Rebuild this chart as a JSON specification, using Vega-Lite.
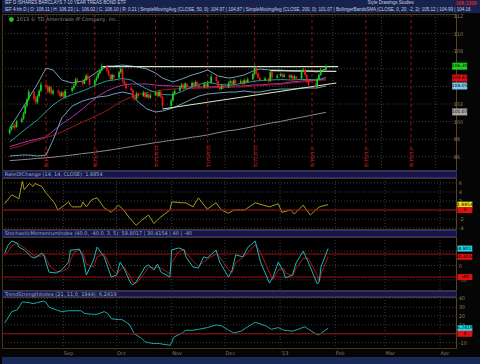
{
"$schema":"https://vega.github.io/schema/vega-lite/v6.json",
"background":"#050505",
"padding":{"left":1,"top":0,"right":0,"bottom":0},
"spacing":1,
"bounds":"flush",
"resolve":{"scale":{"color":"independent"}},
"config":{"view":{"stroke":"#4a3818","fill":"#000000"},"font":"DejaVu Sans","text":{"font":"DejaVu Sans"},"axis":{"labelFont":"DejaVu Sans"}},
"datasets":{
"mo":[{"d":"2012-09-01"},{"d":"2012-10-01"},{"d":"2012-11-01"},{"d":"2012-12-01"},{"d":"2013-01-01"},{"d":"2013-02-01"},{"d":"2013-03-01"},{"d":"2013-04-01"}],
"pg":[{"v":96,"s":"96"},{"v":98,"s":"98"},{"v":100,"s":"100"},{"v":102,"s":"102"},{"v":104,"s":""},{"v":106,"s":""},{"v":108,"s":"108"},{"v":110,"s":"110"},{"v":112,"s":"112"}],
"rg":[{"v":-4,"s":"-4"},{"v":-2,"s":"-2"},{"v":0,"s":""},{"v":2,"s":"2"},{"v":4,"s":"4"},{"v":6,"s":"6"}],
"sg":[{"v":-50,"s":"-50"},{"v":0,"s":"0"},{"v":50,"s":""}],
"tg":[{"v":-10,"s":"-10"},{"v":0,"s":""},{"v":10,"s":"10"},{"v":20,"s":"20"},{"v":30,"s":"30"},{"v":40,"s":"40"}],
"c":[
{"d":"2012-07-30","o":98.7,"h":99.3,"l":98.5,"c":99.1},
{"d":"2012-07-31","o":99.1,"h":99.6,"l":98.9,"c":99.4},
{"d":"2012-08-01","o":99.4,"h":99.8,"l":99.2,"c":99.5},
{"d":"2012-08-02","o":99.6,"h":99.8,"l":99.0,"c":99.3},
{"d":"2012-08-03","o":99.4,"h":100.2,"l":99.3,"c":100.0},
{"d":"2012-08-06","o":100.0,"h":100.5,"l":99.8,"c":100.3},
{"d":"2012-08-07","o":100.3,"h":101.1,"l":100.2,"c":100.9},
{"d":"2012-08-08","o":100.9,"h":101.9,"l":100.8,"c":101.8},
{"d":"2012-08-09","o":101.8,"h":102.7,"l":101.6,"c":102.5},
{"d":"2012-08-10","o":102.5,"h":103.7,"l":102.3,"c":103.4},
{"d":"2012-08-13","o":103.4,"h":103.5,"l":102.4,"c":102.6},
{"d":"2012-08-14","o":102.7,"h":102.9,"l":101.9,"c":102.2},
{"d":"2012-08-15","o":102.2,"h":103.1,"l":102.0,"c":102.9},
{"d":"2012-08-16","o":102.9,"h":103.7,"l":102.7,"c":103.5},
{"d":"2012-08-17","o":103.5,"h":104.5,"l":103.3,"c":104.2},
{"d":"2012-08-20","o":104.2,"h":104.4,"l":103.8,"c":104.0},
{"d":"2012-08-21","o":104.0,"h":104.2,"l":103.2,"c":103.4},
{"d":"2012-08-22","o":103.4,"h":104.1,"l":103.2,"c":103.9},
{"d":"2012-08-23","o":103.9,"h":104.0,"l":103.0,"c":103.2},
{"d":"2012-08-24","o":103.2,"h":103.7,"l":103.0,"c":103.5},
{"d":"2012-08-27","o":103.5,"h":103.7,"l":103.1,"c":103.3},
{"d":"2012-08-28","o":103.3,"h":103.5,"l":102.7,"c":102.9},
{"d":"2012-08-29","o":102.9,"h":103.5,"l":102.8,"c":103.3},
{"d":"2012-08-30","o":103.3,"h":103.4,"l":102.6,"c":102.8},
{"d":"2012-08-31","o":102.8,"h":103.7,"l":102.6,"c":103.5},
{"d":"2012-09-04","o":103.5,"h":104.0,"l":103.3,"c":103.8},
{"d":"2012-09-05","o":103.8,"h":104.3,"l":103.6,"c":104.1},
{"d":"2012-09-06","o":104.1,"h":105.0,"l":104.0,"c":104.8},
{"d":"2012-09-07","o":104.8,"h":105.0,"l":104.4,"c":104.6},
{"d":"2012-09-10","o":104.6,"h":104.8,"l":104.1,"c":104.3},
{"d":"2012-09-11","o":104.3,"h":104.9,"l":104.2,"c":104.7},
{"d":"2012-09-12","o":104.7,"h":105.4,"l":104.6,"c":105.2},
{"d":"2012-09-13","o":105.2,"h":105.5,"l":104.7,"c":104.9},
{"d":"2012-09-14","o":104.9,"h":105.1,"l":104.0,"c":104.2},
{"d":"2012-09-17","o":104.2,"h":104.9,"l":104.0,"c":104.7},
{"d":"2012-09-18","o":104.7,"h":105.2,"l":104.5,"c":105.0},
{"d":"2012-09-19","o":105.0,"h":105.7,"l":104.9,"c":105.5},
{"d":"2012-09-20","o":105.5,"h":106.0,"l":105.3,"c":105.8},
{"d":"2012-09-21","o":105.8,"h":106.6,"l":105.7,"c":106.3},
{"d":"2012-09-24","o":106.3,"h":106.4,"l":105.6,"c":105.8},
{"d":"2012-09-25","o":105.8,"h":106.0,"l":105.1,"c":105.3},
{"d":"2012-09-26","o":105.3,"h":105.4,"l":104.6,"c":104.8},
{"d":"2012-09-27","o":104.8,"h":105.5,"l":104.7,"c":105.3},
{"d":"2012-09-28","o":105.3,"h":105.4,"l":104.8,"c":105.0},
{"d":"2012-10-01","o":105.0,"h":105.8,"l":104.9,"c":105.6},
{"d":"2012-10-02","o":105.6,"h":106.3,"l":105.4,"c":106.0},
{"d":"2012-10-03","o":106.0,"h":106.1,"l":104.4,"c":104.6},
{"d":"2012-10-04","o":104.6,"h":104.9,"l":104.1,"c":104.3},
{"d":"2012-10-05","o":104.3,"h":104.5,"l":103.6,"c":103.8},
{"d":"2012-10-08","o":103.8,"h":104.0,"l":103.4,"c":103.6},
{"d":"2012-10-09","o":103.6,"h":103.7,"l":102.4,"c":102.7},
{"d":"2012-10-10","o":102.7,"h":103.0,"l":102.3,"c":102.6},
{"d":"2012-10-11","o":102.6,"h":103.4,"l":102.5,"c":103.2},
{"d":"2012-10-12","o":103.2,"h":103.3,"l":102.7,"c":102.9},
{"d":"2012-10-15","o":102.9,"h":103.5,"l":102.8,"c":103.3},
{"d":"2012-10-16","o":103.3,"h":103.4,"l":102.6,"c":102.8},
{"d":"2012-10-17","o":102.8,"h":103.3,"l":102.7,"c":103.1},
{"d":"2012-10-18","o":103.1,"h":103.2,"l":102.5,"c":102.7},
{"d":"2012-10-19","o":102.7,"h":103.2,"l":102.6,"c":103.0},
{"d":"2012-10-22","o":103.0,"h":103.5,"l":102.9,"c":103.3},
{"d":"2012-10-23","o":103.3,"h":103.4,"l":102.7,"c":102.9},
{"d":"2012-10-24","o":102.9,"h":103.6,"l":102.8,"c":103.4},
{"d":"2012-10-25","o":103.4,"h":103.5,"l":102.6,"c":102.8},
{"d":"2012-10-26","o":102.8,"h":102.9,"l":101.5,"c":101.8},
{"d":"2012-10-31","o":101.8,"h":102.6,"l":101.7,"c":102.4},
{"d":"2012-11-01","o":102.4,"h":103.4,"l":102.3,"c":103.2},
{"d":"2012-11-02","o":103.2,"h":103.7,"l":103.0,"c":103.5},
{"d":"2012-11-05","o":103.5,"h":104.1,"l":103.4,"c":103.9},
{"d":"2012-11-06","o":103.9,"h":104.4,"l":103.8,"c":104.2},
{"d":"2012-11-07","o":104.2,"h":104.3,"l":103.6,"c":103.8},
{"d":"2012-11-08","o":103.8,"h":104.5,"l":103.7,"c":104.3},
{"d":"2012-11-09","o":104.3,"h":104.4,"l":103.8,"c":104.0},
{"d":"2012-11-12","o":104.0,"h":104.6,"l":103.9,"c":104.4},
{"d":"2012-11-13","o":104.4,"h":104.5,"l":103.9,"c":104.1},
{"d":"2012-11-14","o":104.1,"h":104.7,"l":104.0,"c":104.5},
{"d":"2012-11-15","o":104.5,"h":104.6,"l":104.0,"c":104.2},
{"d":"2012-11-16","o":104.2,"h":104.3,"l":103.7,"c":103.9},
{"d":"2012-11-19","o":103.9,"h":104.5,"l":103.8,"c":104.3},
{"d":"2012-11-20","o":104.3,"h":104.4,"l":103.8,"c":104.0},
{"d":"2012-11-21","o":104.0,"h":104.6,"l":103.9,"c":104.4},
{"d":"2012-11-23","o":104.4,"h":105.4,"l":104.3,"c":105.1},
{"d":"2012-11-26","o":105.1,"h":105.2,"l":104.4,"c":104.6},
{"d":"2012-11-27","o":104.6,"h":104.7,"l":103.8,"c":104.0},
{"d":"2012-11-28","o":104.0,"h":104.1,"l":103.5,"c":103.7},
{"d":"2012-11-29","o":103.7,"h":104.3,"l":103.6,"c":104.1},
{"d":"2012-11-30","o":104.1,"h":104.2,"l":103.7,"c":103.9},
{"d":"2012-12-03","o":103.9,"h":104.6,"l":103.8,"c":104.4},
{"d":"2012-12-04","o":104.4,"h":104.8,"l":104.3,"c":104.6},
{"d":"2012-12-05","o":104.6,"h":104.7,"l":104.1,"c":104.3},
{"d":"2012-12-06","o":104.3,"h":104.9,"l":104.2,"c":104.7},
{"d":"2012-12-07","o":104.7,"h":104.8,"l":104.2,"c":104.4},
{"d":"2012-12-10","o":104.4,"h":104.8,"l":104.3,"c":104.6},
{"d":"2012-12-11","o":104.6,"h":104.7,"l":104.1,"c":104.3},
{"d":"2012-12-12","o":104.3,"h":104.9,"l":104.2,"c":104.7},
{"d":"2012-12-13","o":104.7,"h":104.8,"l":104.3,"c":104.5},
{"d":"2012-12-14","o":104.5,"h":105.0,"l":104.4,"c":104.8},
{"d":"2012-12-17","o":104.8,"h":105.6,"l":104.7,"c":105.4},
{"d":"2012-12-18","o":105.4,"h":106.5,"l":105.3,"c":106.2},
{"d":"2012-12-19","o":106.2,"h":106.3,"l":105.3,"c":105.5},
{"d":"2012-12-20","o":105.5,"h":105.6,"l":104.8,"c":105.0},
{"d":"2012-12-21","o":105.0,"h":105.1,"l":104.5,"c":104.7},
{"d":"2012-12-24","o":104.7,"h":105.1,"l":104.6,"c":104.9},
{"d":"2012-12-26","o":104.9,"h":105.0,"l":104.4,"c":104.6},
{"d":"2012-12-27","o":104.6,"h":105.9,"l":104.5,"c":105.6},
{"d":"2012-12-28","o":105.6,"h":105.7,"l":104.8,"c":105.0},
{"d":"2012-12-31","o":105.0,"h":105.4,"l":104.9,"c":105.2},
{"d":"2013-01-02","o":105.2,"h":105.6,"l":105.1,"c":105.4},
{"d":"2013-01-03","o":105.4,"h":105.5,"l":104.9,"c":105.1},
{"d":"2013-01-04","o":105.1,"h":105.5,"l":105.0,"c":105.3},
{"d":"2013-01-07","o":105.3,"h":105.4,"l":104.8,"c":105.0},
{"d":"2013-01-08","o":105.0,"h":105.4,"l":104.9,"c":105.2},
{"d":"2013-01-09","o":105.2,"h":105.3,"l":104.7,"c":104.9},
{"d":"2013-01-10","o":104.9,"h":105.3,"l":104.8,"c":105.1},
{"d":"2013-01-11","o":105.1,"h":105.2,"l":104.7,"c":104.9},
{"d":"2013-01-14","o":104.9,"h":105.9,"l":104.8,"c":105.7},
{"d":"2013-01-15","o":105.7,"h":106.1,"l":105.6,"c":105.9},
{"d":"2013-01-16","o":105.9,"h":106.0,"l":105.1,"c":105.3},
{"d":"2013-01-17","o":105.3,"h":105.4,"l":104.4,"c":104.6},
{"d":"2013-01-18","o":104.6,"h":104.8,"l":104.0,"c":104.2},
{"d":"2013-01-22","o":104.2,"h":104.4,"l":103.7,"c":103.9},
{"d":"2013-01-23","o":103.9,"h":105.0,"l":103.8,"c":104.8},
{"d":"2013-01-24","o":104.8,"h":105.5,"l":104.7,"c":105.3},
{"d":"2013-01-25","o":105.3,"h":106.1,"l":105.2,"c":105.9},
{"d":"2013-01-28","o":105.9,"h":106.5,"l":105.8,"c":106.3}
],
"i":[
{"d":"2012-07-30","ub":99.27,"mb":97.68,"lb":96.09,"m":97.16,"r":96.89,"g":95.56},
{"d":"2012-08-06","ub":101.4,"mb":98.8,"lb":96.2,"m":97.57,"r":97.28,"g":95.67},
{"d":"2012-08-10","ub":102.68,"mb":99.44,"lb":96.2,"m":97.8,"r":97.57,"g":95.73},
{"d":"2012-08-15","ub":104.27,"mb":100.18,"lb":96.09,"m":98.02,"r":97.85,"g":95.82},
{"d":"2012-08-20","ub":106.09,"mb":101.15,"lb":96.2,"m":98.25,"r":98.19,"g":95.9},
{"d":"2012-08-24","ub":105.86,"mb":101.89,"lb":97.91,"m":98.93,"r":98.42,"g":95.95},
{"d":"2012-08-29","ub":104.73,"mb":102.57,"lb":100.41,"m":99.73,"r":98.82,"g":96.07},
{"d":"2012-09-04","ub":104.39,"mb":103.08,"lb":101.77,"m":100.52,"r":99.39,"g":96.2},
{"d":"2012-09-10","ub":104.61,"mb":103.48,"lb":102.34,"m":101.43,"r":99.95,"g":96.36},
{"d":"2012-09-14","ub":105.07,"mb":103.82,"lb":102.57,"m":102.11,"r":100.3,"g":96.45},
{"d":"2012-09-19","ub":105.75,"mb":104.28,"lb":102.8,"m":102.91,"r":100.75,"g":96.58},
{"d":"2012-09-24","ub":106.32,"mb":104.62,"lb":102.91,"m":103.48,"r":101.26,"g":96.72},
{"d":"2012-09-28","ub":106.32,"mb":104.73,"lb":103.14,"m":103.82,"r":101.77,"g":96.84},
{"d":"2012-10-03","ub":106.43,"mb":104.9,"lb":103.36,"m":104.16,"r":102.34,"g":97.0},
{"d":"2012-10-08","ub":106.32,"mb":104.73,"lb":103.14,"m":104.27,"r":102.8,"g":97.17},
{"d":"2012-10-12","ub":106.2,"mb":104.22,"lb":102.23,"m":104.27,"r":103.08,"g":97.3},
{"d":"2012-10-17","ub":105.98,"mb":103.7,"lb":101.43,"m":104.27,"r":103.31,"g":97.45},
{"d":"2012-10-22","ub":105.52,"mb":103.3,"lb":101.09,"m":104.16,"r":103.48,"g":97.61},
{"d":"2012-10-26","ub":104.95,"mb":103.08,"lb":101.2,"m":104.1,"r":103.59,"g":97.73},
{"d":"2012-11-01","ub":104.5,"mb":103.03,"lb":101.55,"m":104.05,"r":103.7,"g":97.89},
{"d":"2012-11-06","ub":104.84,"mb":103.42,"lb":102.0,"m":103.99,"r":103.76,"g":98.03},
{"d":"2012-11-12","ub":105.3,"mb":103.94,"lb":102.57,"m":103.93,"r":103.76,"g":98.22},
{"d":"2012-11-16","ub":105.52,"mb":104.22,"lb":102.91,"m":103.93,"r":103.82,"g":98.32},
{"d":"2012-11-21","ub":105.86,"mb":104.5,"lb":103.14,"m":103.93,"r":103.82,"g":98.49},
{"d":"2012-11-27","ub":105.18,"mb":104.22,"lb":103.25,"m":103.99,"r":103.88,"g":98.75},
{"d":"2012-12-03","ub":104.95,"mb":104.16,"lb":103.36,"m":104.05,"r":103.88,"g":98.97},
{"d":"2012-12-07","ub":105.07,"mb":104.22,"lb":103.36,"m":104.05,"r":103.93,"g":99.05},
{"d":"2012-12-12","ub":105.3,"mb":104.39,"lb":103.48,"m":104.05,"r":103.93,"g":99.23},
{"d":"2012-12-17","ub":105.75,"mb":104.56,"lb":103.36,"m":104.16,"r":104.05,"g":99.43},
{"d":"2012-12-21","ub":105.98,"mb":104.67,"lb":103.36,"m":104.16,"r":104.1,"g":99.59},
{"d":"2012-12-27","ub":105.86,"mb":104.73,"lb":103.59,"m":104.27,"r":104.16,"g":99.82},
{"d":"2013-01-02","ub":105.86,"mb":104.78,"lb":103.7,"m":104.33,"r":104.22,"g":100.02},
{"d":"2013-01-08","ub":105.75,"mb":104.73,"lb":103.7,"m":104.5,"r":104.39,"g":100.27},
{"d":"2013-01-14","ub":105.75,"mb":104.79,"lb":103.82,"m":104.61,"r":104.5,"g":100.5},
{"d":"2013-01-18","ub":105.75,"mb":104.79,"lb":103.82,"m":104.67,"r":104.56,"g":100.66},
{"d":"2013-01-23","ub":105.64,"mb":104.73,"lb":103.82,"m":104.73,"r":104.67,"g":100.86},
{"d":"2013-01-28","ub":105.98,"mb":105.02,"lb":104.05,"m":104.84,"r":104.73,"g":101.05}
],
"tl":[
{"id":"A","d":"2012-09-21","p":106.24},{"id":"A","d":"2013-02-04","p":106.24},
{"id":"B","d":"2012-12-27","p":105.8},{"id":"B","d":"2013-02-03","p":105.72},
{"id":"S","d":"2012-10-26","p":101.43},{"id":"S","d":"2013-02-03","p":104.39}
],
"exp":[
{"d":"2012-08-20","t":"8/17/12"},{"d":"2012-09-17","t":"9/21/12"},{"d":"2012-10-22","t":"10/19/12"},{"d":"2012-11-21","t":"11/16/12"},{"d":"2012-12-18","t":"12/21/12"},{"d":"2013-01-20","t":"1/18/13"},{"d":"2013-02-20","t":"2/15/13"},{"d":"2013-03-18","t":"3/15/13"}
],
"tp":[{"k":"a","v":106.3,"t":"106.30"},{"k":"b","v":104.95,"t":"104.87"},{"k":"c","v":104.05,"t":"104.05"},{"k":"d","v":101.1,"t":"101.07"}],
"roc":[
{"d":"2012-07-30","v":1.4},{"d":"2012-08-03","v":3.4},{"d":"2012-08-07","v":2.5},{"d":"2012-08-09","v":6.4},{"d":"2012-08-10","v":4.5},{"d":"2012-08-13","v":5.9},{"d":"2012-08-15","v":5.2},{"d":"2012-08-16","v":5.9},{"d":"2012-08-20","v":5.2},{"d":"2012-08-22","v":3.9},{"d":"2012-08-24","v":3.0},{"d":"2012-08-27","v":1.6},{"d":"2012-08-29","v":0},{"d":"2012-09-04","v":1.8},{"d":"2012-09-05","v":1.1},{"d":"2012-09-06","v":0.7},{"d":"2012-09-11","v":0.7},{"d":"2012-09-12","v":1.8},{"d":"2012-09-14","v":0.7},{"d":"2012-09-17","v":2.3},{"d":"2012-09-20","v":2.7},{"d":"2012-09-24","v":0.5},{"d":"2012-09-28","v":-0.5},{"d":"2012-10-02","v":1.1},{"d":"2012-10-05","v":0},{"d":"2012-10-08","v":-1.6},{"d":"2012-10-12","v":-3.4},{"d":"2012-10-15","v":-2.3},{"d":"2012-10-19","v":-1.1},{"d":"2012-10-22","v":-3.0},{"d":"2012-10-25","v":-1.8},{"d":"2012-10-31","v":0},{"d":"2012-11-01","v":1.8},{"d":"2012-11-07","v":1.6},{"d":"2012-11-09","v":1.6},{"d":"2012-11-13","v":0.7},{"d":"2012-11-16","v":2.7},{"d":"2012-11-21","v":0.2},{"d":"2012-11-26","v":1.6},{"d":"2012-11-29","v":0},{"d":"2012-12-03","v":-0.7},{"d":"2012-12-06","v":0},{"d":"2012-12-12","v":0},{"d":"2012-12-18","v":1.6},{"d":"2012-12-26","v":0.7},{"d":"2012-12-31","v":1.4},{"d":"2013-01-02","v":-0.5},{"d":"2013-01-07","v":0},{"d":"2013-01-09","v":-0.9},{"d":"2013-01-14","v":1.1},{"d":"2013-01-18","v":-1.1},{"d":"2013-01-23","v":0.7},{"d":"2013-01-28","v":1.2}
],
"rt":[{"k":"a","v":1.2,"t":"1.8854"},{"k":"b","v":0,"t":"0"}],
"smi":[
{"d":"2012-07-30","k":43,"s":35},{"d":"2012-08-01","k":71,"s":50},{"d":"2012-08-03","k":85,"s":68},{"d":"2012-08-06","k":78,"s":78},{"d":"2012-08-07","k":64,"s":74},{"d":"2012-08-10","k":54,"s":62},{"d":"2012-08-14","k":30,"s":42},{"d":"2012-08-16","k":26,"s":32},{"d":"2012-08-20","k":43,"s":33},{"d":"2012-08-21","k":37,"s":38},{"d":"2012-08-23","k":-5,"s":18},{"d":"2012-08-24","k":-23,"s":0},{"d":"2012-08-28","k":-26,"s":-20},{"d":"2012-08-31","k":-16,"s":-22},{"d":"2012-09-04","k":12,"s":-8},{"d":"2012-09-05","k":54,"s":18},{"d":"2012-09-07","k":54,"s":45},{"d":"2012-09-10","k":57,"s":54},{"d":"2012-09-12","k":30,"s":45},{"d":"2012-09-14","k":-33,"s":5},{"d":"2012-09-18","k":19,"s":-5},{"d":"2012-09-20","k":64,"s":30},{"d":"2012-09-24","k":30,"s":40},{"d":"2012-09-28","k":-40,"s":-10},{"d":"2012-10-01","k":-33,"s":-30},{"d":"2012-10-03","k":12,"s":-15},{"d":"2012-10-05","k":-9,"s":-5},{"d":"2012-10-09","k":-61,"s":-40},{"d":"2012-10-10","k":-68,"s":-58},{"d":"2012-10-12","k":-57,"s":-62},{"d":"2012-10-17","k":-5,"s":-25},{"d":"2012-10-19","k":2,"s":-5},{"d":"2012-10-22","k":-16,"s":-8},{"d":"2012-10-24","k":5,"s":-5},{"d":"2012-10-26","k":-23,"s":-10},{"d":"2012-10-31","k":-40,"s":-28},{"d":"2012-11-01","k":54,"s":10},{"d":"2012-11-05","k":61,"s":48},{"d":"2012-11-08","k":54,"s":56},{"d":"2012-11-09","k":30,"s":45},{"d":"2012-11-13","k":-5,"s":15},{"d":"2012-11-16","k":-9,"s":-2},{"d":"2012-11-19","k":30,"s":12},{"d":"2012-11-21","k":26,"s":22},{"d":"2012-11-26","k":54,"s":40},{"d":"2012-11-28","k":12,"s":30},{"d":"2012-12-03","k":-40,"s":-15},{"d":"2012-12-05","k":-16,"s":-25},{"d":"2012-12-07","k":37,"s":10},{"d":"2012-12-11","k":30,"s":28},{"d":"2012-12-14","k":64,"s":45},{"d":"2012-12-18","k":85,"s":72},{"d":"2012-12-21","k":12,"s":45},{"d":"2012-12-26","k":-61,"s":-25},{"d":"2012-12-28","k":-40,"s":-48},{"d":"2012-12-31","k":12,"s":-15},{"d":"2013-01-03","k":-23,"s":-10},{"d":"2013-01-04","k":-43,"s":-25},{"d":"2013-01-08","k":-33,"s":-35},{"d":"2013-01-10","k":9,"s":-10},{"d":"2013-01-14","k":50,"s":25},{"d":"2013-01-17","k":9,"s":25},{"d":"2013-01-22","k":-64,"s":-35},{"d":"2013-01-23","k":-57,"s":-55},{"d":"2013-01-24","k":-5,"s":-30},{"d":"2013-01-28","k":58.8,"s":30}
],
"st":[{"k":"a","v":58.8,"t":"58.8017"},{"k":"b","v":30,"t":"30.4154"},{"k":"b","v":-40,"t":"-40"}],
"tsi":[
{"d":"2012-07-30","v":12},{"d":"2012-08-03","v":25},{"d":"2012-08-06","v":27},{"d":"2012-08-09","v":36},{"d":"2012-08-13","v":35},{"d":"2012-08-15","v":34},{"d":"2012-08-17","v":35},{"d":"2012-08-21","v":37},{"d":"2012-08-22","v":36},{"d":"2012-08-24","v":30},{"d":"2012-08-28","v":27},{"d":"2012-08-31","v":25},{"d":"2012-09-04","v":26},{"d":"2012-09-11","v":26},{"d":"2012-09-13","v":23},{"d":"2012-09-17","v":22},{"d":"2012-09-20","v":22},{"d":"2012-09-24","v":25},{"d":"2012-09-26","v":23},{"d":"2012-09-28","v":17},{"d":"2012-10-02","v":16},{"d":"2012-10-04","v":16},{"d":"2012-10-08","v":11},{"d":"2012-10-11","v":0},{"d":"2012-10-15","v":-5},{"d":"2012-10-17","v":-9},{"d":"2012-10-19","v":-10},{"d":"2012-10-22","v":-11},{"d":"2012-10-25","v":-11},{"d":"2012-10-31","v":-13},{"d":"2012-11-01","v":-10},{"d":"2012-11-02","v":-4},{"d":"2012-11-07","v":1},{"d":"2012-11-09","v":4},{"d":"2012-11-13","v":4},{"d":"2012-11-16","v":5},{"d":"2012-11-21","v":7},{"d":"2012-11-26","v":10},{"d":"2012-11-29","v":9},{"d":"2012-12-03","v":4},{"d":"2012-12-06","v":1},{"d":"2012-12-10","v":3},{"d":"2012-12-13","v":7},{"d":"2012-12-18","v":13},{"d":"2012-12-24","v":9},{"d":"2012-12-27","v":5},{"d":"2012-12-31","v":7},{"d":"2013-01-03","v":4},{"d":"2013-01-08","v":3},{"d":"2013-01-11","v":5},{"d":"2013-01-15","v":8},{"d":"2013-01-17","v":5},{"d":"2013-01-22","v":-1},{"d":"2013-01-23","v":-1},{"d":"2013-01-28","v":6.24}
],
"tt":[{"k":"a","v":6.24,"t":"6.2419"},{"k":"b","v":0,"t":"0"}]
},
"vconcat":[
{"width":480,"height":13,"view":{"fill":"#17234d","stroke":null},
 "layer":[
  {"data":{"values":[{"r":"a","t":"IEF       D  ISHARES BARCLAYS 7-10 YEAR TREAS BOND ETF"},{"r":"b","t":"IEF 4-hh D | O: 106.11 | H: 106.23 | L: 106.02 | C: 106.10 | R: 0.21 | SimpleMovingAvg (CLOSE, 50, 0): 104.97 | 104.87 | SimpleMovingAvg (CLOSE, 200, 0): 101.07 | BollingerBandsSMA (CLOSE, 0, 20, -2, 2): 105.12 | 104.99 | 104.16"}]},
   "mark":{"type":"text","align":"left","baseline":"middle","fontSize":4.5,"font":"Liberation Sans","color":"#c8d0e0"},
   "encoding":{"x":{"datum":{"year":2012,"month":7,"date":30,"utc":true},"type":"temporal","scale":{"type":"utc","domain":[{"year":2012,"month":7,"date":28,"hours":12,"utc":true},{"year":2013,"month":4,"date":10,"utc":true}]},"axis":null},"y":{"field":"r","type":"nominal","axis":null},"text":{"field":"t"}}},
  {"data":{"values":[{"r":"a","t":"Style   Drawings   Studies"}]},
   "mark":{"type":"text","align":"left","baseline":"middle","fontSize":4.5,"font":"Liberation Sans","color":"#c8d0e0"},
   "encoding":{"x":{"datum":{"year":2013,"month":2,"date":8,"utc":true},"type":"temporal","axis":null},"y":{"field":"r","type":"nominal","axis":null},"text":{"field":"t"}}},
  {"data":{"values":[{"r":"a","t":"106.1300"}]},
   "mark":{"type":"text","align":"left","baseline":"middle","fontSize":5,"font":"Liberation Sans","fontWeight":"bold","color":"#e02020"},
   "encoding":{"x":{"datum":{"year":2013,"month":3,"date":27,"utc":true},"type":"temporal","axis":null},"y":{"field":"r","type":"nominal","axis":null},"text":{"field":"t"}}}
 ]},
{"width":454,"height":156,
 "layer":[
  {"data":{"name":"mo"},"mark":{"type":"rule","color":"#3c3c3c","strokeDash":[1,2],"strokeWidth":1},"encoding":{"x":{"field":"d","type":"temporal","axis":null,"scale":{"type":"utc","domain":[{"year":2012,"month":7,"date":28,"hours":12,"utc":true},{"year":2013,"month":4,"date":10,"utc":true}]}}}},
  {"data":{"name":"pg"},"mark":{"type":"rule","color":"#3c3c3c","strokeDash":[1,2],"strokeWidth":1},"encoding":{"y":{"field":"v","type":"quantitative","title":null,"scale":{"domain":[94.5,112.23],"nice":false,"zero":false},"axis":{"orient":"right","labels":false,"ticks":false,"grid":false,"domainColor":"#5a4420"}}}},
  {"data":{"name":"pg"},"mark":{"type":"text","align":"left","baseline":"middle","fontSize":5,"color":"#8c7a5c"},"encoding":{"x":{"datum":{"year":2013,"month":4,"date":11,"hours":12,"utc":true},"type":"temporal","axis":null},"y":{"field":"v","type":"quantitative","title":null,"scale":{"domain":[94.5,112.23],"nice":false,"zero":false}},"text":{"field":"s"}}},
  {"data":{"name":"i"},"mark":{"type":"line","color":"#8a8a8a","strokeWidth":1},"encoding":{"x":{"field":"d","type":"temporal","axis":null},"y":{"field":"g","type":"quantitative","title":null,"scale":{"domain":[94.5,112.23],"nice":false,"zero":false}}}},
  {"data":{"name":"exp"},"mark":{"type":"rule","color":"#9a1414","strokeDash":[3,3],"strokeWidth":1},"encoding":{"x":{"field":"d","type":"temporal","axis":null}}},
  {"data":{"name":"exp"},"mark":{"type":"text","angle":270,"align":"left","baseline":"middle","fontSize":5,"color":"#b02020"},"encoding":{"x":{"field":"d","type":"temporal","axis":null},"y":{"datum":94.8},"text":{"field":"t"}}},
  {"data":{"name":"i"},"mark":{"type":"line","color":"#b030b0","strokeWidth":1},"encoding":{"x":{"field":"d","type":"temporal","axis":null},"y":{"field":"m","type":"quantitative","title":null,"scale":{"domain":[94.5,112.23],"nice":false,"zero":false}}}},
  {"data":{"name":"i"},"mark":{"type":"line","color":"#a01818","strokeWidth":1},"encoding":{"x":{"field":"d","type":"temporal","axis":null},"y":{"field":"r","type":"quantitative","title":null,"scale":{"domain":[94.5,112.23],"nice":false,"zero":false}}}},
  {"data":{"name":"i"},"mark":{"type":"line","color":"#6f9fbe","strokeWidth":1},"encoding":{"x":{"field":"d","type":"temporal","axis":null},"y":{"field":"ub","type":"quantitative","title":null,"scale":{"domain":[94.5,112.23],"nice":false,"zero":false}}}},
  {"data":{"name":"i"},"mark":{"type":"line","color":"#6f9fbe","strokeWidth":1},"encoding":{"x":{"field":"d","type":"temporal","axis":null},"y":{"field":"lb","type":"quantitative","title":null,"scale":{"domain":[94.5,112.23],"nice":false,"zero":false}}}},
  {"data":{"name":"i"},"mark":{"type":"line","color":"#1e9e9e","strokeWidth":1},"encoding":{"x":{"field":"d","type":"temporal","axis":null},"y":{"field":"mb","type":"quantitative","title":null,"scale":{"domain":[94.5,112.23],"nice":false,"zero":false}}}},
  {"data":{"name":"tl"},"mark":{"type":"line","color":"#d8e6cc","strokeWidth":1.2},"encoding":{"x":{"field":"d","type":"temporal","axis":null},"y":{"field":"p","type":"quantitative","title":null,"scale":{"domain":[94.5,112.23],"nice":false,"zero":false}},"detail":{"field":"id"}}},
  {"data":{"name":"c"},"mark":{"type":"rule","strokeWidth":0.7},"encoding":{"x":{"field":"d","type":"temporal","axis":null},"y":{"field":"l","type":"quantitative","title":null,"scale":{"domain":[94.5,112.23],"nice":false,"zero":false}},"y2":{"field":"h"},"color":{"condition":{"test":"datum.c >= datum.o","value":"#1fcf1f"},"value":"#e41818"}}},
  {"data":{"name":"c"},"mark":{"type":"bar","size":1.7},"encoding":{"x":{"field":"d","type":"temporal","axis":null},"y":{"field":"o","type":"quantitative","title":null,"scale":{"domain":[94.5,112.23],"nice":false,"zero":false}},"y2":{"field":"c"},"color":{"condition":{"test":"datum.c >= datum.o","value":"#1fcf1f"},"value":"#e41818"}}},
  {"data":{"values":[{"t":"2013 © TD Ameritrade IP Company, Inc."}]},"mark":{"type":"text","align":"left","baseline":"middle","fontSize":5,"color":"#8a8a8a"},"encoding":{"x":{"datum":{"year":2012,"month":8,"date":3,"utc":true},"type":"temporal","axis":null},"y":{"datum":111.7},"text":{"field":"t"}}},
  {"data":{"values":[{"t":"●"}]},"mark":{"type":"text","align":"center","baseline":"middle","fontSize":6,"color":"#22cc22"},"encoding":{"x":{"datum":{"year":2012,"month":7,"date":31,"utc":true},"type":"temporal","axis":null},"y":{"datum":111.7},"text":{"field":"t"}}},
  {"data":{"name":"tp"},"mark":{"type":"tick","orient":"horizontal","size":15,"thickness":7,"opacity":1},"encoding":{"x":{"datum":{"year":2013,"month":4,"date":15,"utc":true},"type":"temporal","axis":null},"y":{"field":"v","type":"quantitative","title":null,"scale":{"domain":[94.5,112.23],"nice":false,"zero":false}},"color":{"field":"k","type":"nominal","legend":null,"scale":{"domain":["a","b","c","d"],"range":["#1ed21e","#e01010","#80c8ec","#a8a8a8"]}}}},
  {"data":{"name":"tp"},"mark":{"type":"text","align":"center","baseline":"middle","fontSize":4.5,"color":"#000000"},"encoding":{"x":{"datum":{"year":2013,"month":4,"date":15,"utc":true},"type":"temporal","axis":null},"y":{"field":"v","type":"quantitative","title":null,"scale":{"domain":[94.5,112.23],"nice":false,"zero":false}},"text":{"field":"t"}}}
 ]},
{"width":454,"height":6,"view":{"fill":"#16164c","stroke":"#2c2c7a"},
 "data":{"values":[{"t":"RateOfChange (14, 14, CLOSE): 1.8854"}]},
 "mark":{"type":"text","align":"left","baseline":"middle","fontSize":5,"color":"#8fb4d8"},
 "encoding":{"x":{"datum":{"year":2012,"month":7,"date":30,"utc":true},"type":"temporal","scale":{"type":"utc","domain":[{"year":2012,"month":7,"date":28,"hours":12,"utc":true},{"year":2013,"month":4,"date":10,"utc":true}]},"axis":null},"text":{"field":"t"}}},
{"width":454,"height":51,
 "layer":[
  {"data":{"name":"mo"},"mark":{"type":"rule","color":"#3c3c3c","strokeDash":[1,2],"strokeWidth":1},"encoding":{"x":{"field":"d","type":"temporal","axis":null,"scale":{"type":"utc","domain":[{"year":2012,"month":7,"date":28,"hours":12,"utc":true},{"year":2013,"month":4,"date":10,"utc":true}]}}}},
  {"data":{"name":"rg"},"mark":{"type":"rule","color":"#3c3c3c","strokeDash":[1,2],"strokeWidth":1},"encoding":{"y":{"field":"v","type":"quantitative","title":null,"scale":{"domain":[-4.2,7.1],"nice":false,"zero":false},"axis":{"orient":"right","labels":false,"ticks":false,"grid":false,"domainColor":"#5a4420"}}}},
  {"data":{"name":"rg"},"mark":{"type":"text","align":"left","baseline":"middle","fontSize":5,"color":"#8c7a5c"},"encoding":{"x":{"datum":{"year":2013,"month":4,"date":11,"hours":12,"utc":true},"type":"temporal","axis":null},"y":{"field":"v","type":"quantitative","title":null,"scale":{"domain":[-4.2,7.1],"nice":false,"zero":false}},"text":{"field":"s"}}},
  {"data":{"name":"roc"},"mark":{"type":"line","color":"#a89a1c","strokeWidth":1},"encoding":{"x":{"field":"d","type":"temporal","axis":null},"y":{"field":"v","type":"quantitative","title":null,"scale":{"domain":[-4.2,7.1],"nice":false,"zero":false}}}},
  {"data":{"values":[{}]},"mark":{"type":"rule","color":"#a01010","strokeWidth":1},"encoding":{"y":{"datum":0}}},
  {"data":{"name":"rt"},"mark":{"type":"tick","orient":"horizontal","size":15,"thickness":6,"opacity":1},"encoding":{"x":{"datum":{"year":2013,"month":4,"date":15,"utc":true},"type":"temporal","axis":null},"y":{"field":"v","type":"quantitative","title":null,"scale":{"domain":[-4.2,7.1],"nice":false,"zero":false}},"color":{"field":"k","type":"nominal","legend":null,"scale":{"domain":["a","b"],"range":["#e6e61a","#e01010"]}}}},
  {"data":{"name":"rt"},"mark":{"type":"text","align":"center","baseline":"middle","fontSize":4.5,"color":"#000000"},"encoding":{"x":{"datum":{"year":2013,"month":4,"date":15,"utc":true},"type":"temporal","axis":null},"y":{"field":"v","type":"quantitative","title":null,"scale":{"domain":[-4.2,7.1],"nice":false,"zero":false}},"text":{"field":"t"}}}
 ]},
{"width":454,"height":6,"view":{"fill":"#16164c","stroke":"#2c2c7a"},
 "data":{"values":[{"t":"StochasticMomentumIndex (40.0, -40.0, 3, 5): 58.8017 | 30.4154 | 40 | -40"}]},
 "mark":{"type":"text","align":"left","baseline":"middle","fontSize":5,"color":"#8fb4d8"},
 "encoding":{"x":{"datum":{"year":2012,"month":7,"date":30,"utc":true},"type":"temporal","scale":{"type":"utc","domain":[{"year":2012,"month":7,"date":28,"hours":12,"utc":true},{"year":2013,"month":4,"date":10,"utc":true}]},"axis":null},"text":{"field":"t"}}},
{"width":454,"height":53,
 "layer":[
  {"data":{"name":"mo"},"mark":{"type":"rule","color":"#3c3c3c","strokeDash":[1,2],"strokeWidth":1},"encoding":{"x":{"field":"d","type":"temporal","axis":null,"scale":{"type":"utc","domain":[{"year":2012,"month":7,"date":28,"hours":12,"utc":true},{"year":2013,"month":4,"date":10,"utc":true}]}}}},
  {"data":{"name":"sg"},"mark":{"type":"rule","color":"#3c3c3c","strokeDash":[1,2],"strokeWidth":1},"encoding":{"y":{"field":"v","type":"quantitative","title":null,"scale":{"domain":[-85,99],"nice":false,"zero":false},"axis":{"orient":"right","labels":false,"ticks":false,"grid":false,"domainColor":"#5a4420"}}}},
  {"data":{"name":"sg"},"mark":{"type":"text","align":"left","baseline":"middle","fontSize":5,"color":"#8c7a5c"},"encoding":{"x":{"datum":{"year":2013,"month":4,"date":11,"hours":12,"utc":true},"type":"temporal","axis":null},"y":{"field":"v","type":"quantitative","title":null,"scale":{"domain":[-85,99],"nice":false,"zero":false}},"text":{"field":"s"}}},
  {"data":{"values":[{"v":40},{"v":-40}]},"mark":{"type":"rule","color":"#a01010","strokeWidth":1},"encoding":{"y":{"field":"v","type":"quantitative","title":null,"scale":{"domain":[-85,99],"nice":false,"zero":false}}}},
  {"data":{"name":"smi"},"mark":{"type":"line","color":"#a81818","strokeWidth":1},"encoding":{"x":{"field":"d","type":"temporal","axis":null},"y":{"field":"s","type":"quantitative","title":null,"scale":{"domain":[-85,99],"nice":false,"zero":false}}}},
  {"data":{"name":"smi"},"mark":{"type":"line","color":"#1cb8b8","strokeWidth":1},"encoding":{"x":{"field":"d","type":"temporal","axis":null},"y":{"field":"k","type":"quantitative","title":null,"scale":{"domain":[-85,99],"nice":false,"zero":false}}}},
  {"data":{"name":"st"},"mark":{"type":"tick","orient":"horizontal","size":15,"thickness":6,"opacity":1},"encoding":{"x":{"datum":{"year":2013,"month":4,"date":15,"utc":true},"type":"temporal","axis":null},"y":{"field":"v","type":"quantitative","title":null,"scale":{"domain":[-85,99],"nice":false,"zero":false}},"color":{"field":"k","type":"nominal","legend":null,"scale":{"domain":["a","b"],"range":["#22d8e8","#e01010"]}}}},
  {"data":{"name":"st"},"mark":{"type":"text","align":"center","baseline":"middle","fontSize":4.5,"color":"#000000"},"encoding":{"x":{"datum":{"year":2013,"month":4,"date":15,"utc":true},"type":"temporal","axis":null},"y":{"field":"v","type":"quantitative","title":null,"scale":{"domain":[-85,99],"nice":false,"zero":false}},"text":{"field":"t"}}}
 ]},
{"width":454,"height":5,"view":{"fill":"#16164c","stroke":"#2c2c7a"},
 "data":{"values":[{"t":"TrendStrengthIndex (21, 11.0, 1944): 6.2419"}]},
 "mark":{"type":"text","align":"left","baseline":"middle","fontSize":5,"color":"#8fb4d8"},
 "encoding":{"x":{"datum":{"year":2012,"month":7,"date":30,"utc":true},"type":"temporal","scale":{"type":"utc","domain":[{"year":2012,"month":7,"date":28,"hours":12,"utc":true},{"year":2013,"month":4,"date":10,"utc":true}]},"axis":null},"text":{"field":"t"}}},
{"width":454,"height":51,
 "layer":[
  {"data":{"name":"mo"},"mark":{"type":"rule","color":"#3c3c3c","strokeDash":[1,2],"strokeWidth":1},"encoding":{"x":{"field":"d","type":"temporal","title":null,"scale":{"type":"utc","domain":[{"year":2012,"month":7,"date":28,"hours":12,"utc":true},{"year":2013,"month":4,"date":10,"utc":true}]},"axis":{"labelExpr":"utcmonth(datum.value)==0 ? \"'13\" : utcFormat(datum.value, '%b')","labelAlign":"left","labelFontSize":5,"labelColor":"#8c7a5c","labelPadding":2,"labelOverlap":false,"ticks":false,"domain":false,"grid":false,"values":[{"year":2012,"month":9,"date":1,"utc":true},{"year":2012,"month":10,"date":1,"utc":true},{"year":2012,"month":11,"date":1,"utc":true},{"year":2012,"month":12,"date":1,"utc":true},{"year":2013,"month":1,"date":1,"utc":true},{"year":2013,"month":2,"date":1,"utc":true},{"year":2013,"month":3,"date":1,"utc":true},{"year":2013,"month":4,"date":1,"utc":true}]}}}},
  {"data":{"name":"tg"},"mark":{"type":"rule","color":"#3c3c3c","strokeDash":[1,2],"strokeWidth":1},"encoding":{"y":{"field":"v","type":"quantitative","title":null,"scale":{"domain":[-16,41.5],"nice":false,"zero":false},"axis":{"orient":"right","labels":false,"ticks":false,"grid":false,"domainColor":"#5a4420"}}}},
  {"data":{"name":"tg"},"mark":{"type":"text","align":"left","baseline":"middle","fontSize":5,"color":"#8c7a5c"},"encoding":{"x":{"datum":{"year":2013,"month":4,"date":11,"hours":12,"utc":true},"type":"temporal"},"y":{"field":"v","type":"quantitative","title":null,"scale":{"domain":[-16,41.5],"nice":false,"zero":false}},"text":{"field":"s"}}},
  {"data":{"name":"tsi"},"mark":{"type":"line","color":"#1ca8a8","strokeWidth":1},"encoding":{"x":{"field":"d","type":"temporal","title":null},"y":{"field":"v","type":"quantitative","title":null,"scale":{"domain":[-16,41.5],"nice":false,"zero":false}}}},
  {"data":{"values":[{}]},"mark":{"type":"rule","color":"#a01010","strokeWidth":1},"encoding":{"y":{"datum":0}}},
  {"data":{"name":"tt"},"mark":{"type":"tick","orient":"horizontal","size":15,"thickness":6,"opacity":1},"encoding":{"x":{"datum":{"year":2013,"month":4,"date":15,"utc":true},"type":"temporal"},"y":{"field":"v","type":"quantitative","title":null,"scale":{"domain":[-16,41.5],"nice":false,"zero":false}},"color":{"field":"k","type":"nominal","legend":null,"scale":{"domain":["a","b"],"range":["#22d8e8","#e01010"]}}}},
  {"data":{"name":"tt"},"mark":{"type":"text","align":"center","baseline":"middle","fontSize":4.5,"color":"#000000"},"encoding":{"x":{"datum":{"year":2013,"month":4,"date":15,"utc":true},"type":"temporal"},"y":{"field":"v","type":"quantitative","title":null,"scale":{"domain":[-16,41.5],"nice":false,"zero":false}},"text":{"field":"t"}}}
 ]},
{"width":454,"height":7,"view":{"fill":null,"stroke":null},"data":{"values":[]},"mark":"rect","encoding":{}},
{"width":480,"height":7,"view":{"fill":"#1a2a58","stroke":null},"data":{"values":[]},"mark":"rect","encoding":{}}
]
}
